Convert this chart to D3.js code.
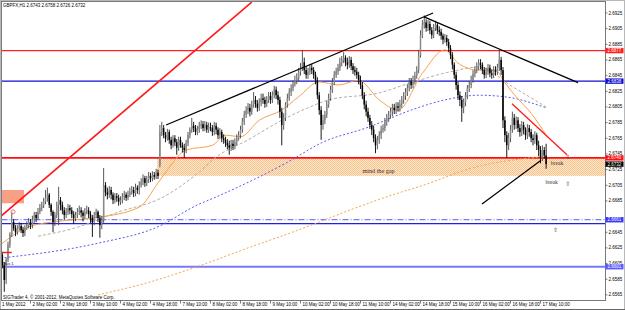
<!DOCTYPE html>
<html lang="en">
<head>
<meta charset="UTF-8">
<title>GBPFX,H1</title>
<script src="https://d3js.org/d3.v7.min.js"></script>
<style>
  body { margin: 0; background: #fff; }
  svg { display: block; font-family: "Liberation Sans", Arial, sans-serif; }
</style>
</head>
<body>
<svg width="625" height="310"></svg>
<script>
// ---- data ----
const title = 'GBPFX,H1  2.6743 2.6758 2.6726 2.6732';
const copyright = 'SIGTrader 4, \u00a9 2001-2012, MetaQuotes Software Corp.';

const dateLabels = ['1 May 2012', '2 May 02:00', '2 May 18:00', '3 May 10:00', '4 May 02:00', '4 May 18:00',
  '7 May 10:00', '8 May 02:00', '8 May 18:00', '9 May 10:00', '10 May 02:00', '10 May 18:00', '11 May 10:00',
  '14 May 02:00', '14 May 18:00', '15 May 10:00', '16 May 02:00', '16 May 18:00', '17 May 10:00'];

const priceTicks = [2.6925, 2.6905, 2.6885, 2.6865, 2.6845, 2.6825, 2.6805, 2.6785, 2.6765, 2.6745,
  2.6725, 2.6705, 2.6685, 2.6645, 2.6625, 2.6605, 2.6585, 2.6565];

// hourly bars, 1 May 10:00 .. 17 May 13:00 (open = previous close)
const firstOpen = 2.6625;
const gapOpens = { 85: 2.6731 };
const closes = [
  2.6616,2.6603,2.6584,2.6610,2.6629,2.6642,2.6658,2.6650,2.6645,2.6650,2.6653,2.6648,2.6644,2.6650,2.6654,2.6658,
  2.6654,2.6661,2.6667,2.6663,2.6671,2.6676,2.6679,2.6684,2.6689,2.6693,2.6680,2.6671,2.6658,2.6667,2.6680,2.6686,
  2.6680,2.6673,2.6667,2.6671,2.6676,2.6673,2.6668,2.6663,2.6667,2.6671,2.6673,2.6670,2.6666,2.6671,2.6673,2.6668,
  2.6663,2.6658,2.6667,2.6671,2.6663,2.6654,2.6661,2.6705,2.6696,2.6693,2.6699,2.6693,2.6686,2.6691,2.6689,2.6684,
  2.6686,2.6690,2.6693,2.6689,2.6693,2.6696,2.6699,2.6695,2.6702,2.6699,2.6705,2.6709,2.6714,2.6708,2.6712,2.6717,
  2.6714,2.6718,2.6716,2.6721,2.6717,2.6773,2.6778,2.6769,2.6765,2.6773,2.6763,2.6756,2.6765,2.6760,2.6753,2.6763,
  2.6756,2.6753,2.6750,2.6759,2.6769,2.6776,2.6781,2.6778,2.6773,2.6776,2.6781,2.6783,2.6778,2.6782,2.6776,2.6779,
  2.6778,2.6773,2.6781,2.6776,2.6769,2.6773,2.6765,2.6763,2.6759,2.6756,2.6753,2.6758,2.6755,2.6760,2.6765,2.6769,
  2.6776,2.6786,2.6795,2.6801,2.6804,2.6799,2.6808,2.6814,2.6809,2.6804,2.6811,2.6816,2.6814,2.6809,2.6814,2.6819,
  2.6814,2.6820,2.6827,2.6820,2.6814,2.6799,2.6782,2.6791,2.6808,2.6816,2.6824,2.6829,2.6834,2.6839,2.6842,2.6850,
  2.6855,2.6862,2.6852,2.6846,2.6850,2.6855,2.6852,2.6846,2.6839,2.6820,2.6801,2.6782,2.6788,2.6795,2.6808,2.6816,
  2.6827,2.6837,2.6846,2.6850,2.6855,2.6862,2.6865,2.6868,2.6862,2.6859,2.6865,2.6857,2.6852,2.6850,2.6846,2.6839,
  2.6833,2.6820,2.6808,2.6799,2.6791,2.6782,2.6776,2.6765,2.6756,2.6763,2.6769,2.6776,2.6778,2.6786,2.6791,2.6795,
  2.6799,2.6804,2.6801,2.6806,2.6804,2.6809,2.6814,2.6819,2.6824,2.6829,2.6837,2.6833,2.6839,2.6845,2.6852,2.6871,
  2.6897,2.6910,2.6913,2.6906,2.6911,2.6903,2.6897,2.6906,2.6910,2.6903,2.6901,2.6896,2.6891,2.6893,2.6888,2.6880,
  2.6871,2.6859,2.6846,2.6833,2.6820,2.6814,2.6804,2.6811,2.6820,2.6829,2.6833,2.6839,2.6847,2.6852,2.6857,2.6861,
  2.6859,2.6852,2.6846,2.6850,2.6855,2.6848,2.6846,2.6852,2.6850,2.6855,2.6865,2.6852,2.6788,2.6769,2.6756,2.6765,
  2.6776,2.6791,2.6782,2.6788,2.6778,2.6773,2.6782,2.6776,2.6769,2.6778,2.6773,2.6765,2.6763,2.6769,2.6756,2.6750,
  2.6740,2.6750,2.6743,2.6732];
const highs = [
  2.6630,2.6620,2.6607,2.6612,2.6633,2.6645,2.6671,2.6662,2.6654,2.6654,2.6658,2.6657,2.6652,2.6654,2.6659,2.6663,
  2.6662,2.6666,2.6671,2.6671,2.6676,2.6681,2.6684,2.6689,2.6699,2.6702,2.6695,2.6682,2.6673,2.6671,2.6684,2.6703,
  2.6690,2.6684,2.6677,2.6676,2.6681,2.6680,2.6677,2.6672,2.6671,2.6676,2.6679,2.6677,2.6673,2.6676,2.6679,2.6677,
  2.6672,2.6667,2.6671,2.6675,2.6673,2.6667,2.6666,2.6727,2.6709,2.6702,2.6704,2.6703,2.6696,2.6695,2.6695,2.6693,
  2.6691,2.6695,2.6698,2.6696,2.6698,2.6702,2.6704,2.6703,2.6707,2.6705,2.6710,2.6714,2.6719,2.6717,2.6717,2.6722,
  2.6721,2.6723,2.6722,2.6726,2.6725,2.6782,2.6786,2.6782,2.6773,2.6777,2.6776,2.6767,2.6769,2.6769,2.6764,2.6767,
  2.6767,2.6760,2.6758,2.6763,2.6773,2.6779,2.6791,2.6786,2.6782,2.6781,2.6786,2.6788,2.6787,2.6787,2.6786,2.6785,
  2.6785,2.6782,2.6786,2.6785,2.6779,2.6778,2.6776,2.6770,2.6767,2.6764,2.6762,2.6763,2.6763,2.6765,2.6770,2.6774,
  2.6781,2.6791,2.6800,2.6806,2.6810,2.6809,2.6813,2.6824,2.6819,2.6814,2.6816,2.6822,2.6822,2.6818,2.6819,2.6824,
  2.6824,2.6825,2.6832,2.6831,2.6825,2.6818,2.6804,2.6797,2.6811,2.6822,2.6829,2.6834,2.6839,2.6845,2.6848,2.6855,
  2.6861,2.6878,2.6868,2.6857,2.6855,2.6860,2.6860,2.6856,2.6850,2.6843,2.6824,2.6806,2.6795,2.6800,2.6813,2.6822,
  2.6832,2.6842,2.6851,2.6855,2.6860,2.6868,2.6870,2.6875,2.6871,2.6868,2.6870,2.6869,2.6861,2.6857,2.6855,2.6850,
  2.6845,2.6837,2.6824,2.6813,2.6804,2.6795,2.6787,2.6781,2.6770,2.6768,2.6774,2.6781,2.6783,2.6791,2.6796,2.6800,
  2.6804,2.6809,2.6809,2.6811,2.6811,2.6814,2.6819,2.6824,2.6829,2.6834,2.6842,2.6842,2.6845,2.6850,2.6857,2.6878,
  2.6903,2.6916,2.6922,2.6917,2.6916,2.6915,2.6907,2.6911,2.6915,2.6913,2.6908,2.6905,2.6899,2.6898,2.6897,2.6892,
  2.6884,2.6875,2.6862,2.6850,2.6837,2.6825,2.6819,2.6816,2.6824,2.6833,2.6838,2.6845,2.6852,2.6857,2.6862,2.6866,
  2.6866,2.6862,2.6856,2.6855,2.6860,2.6859,2.6853,2.6857,2.6857,2.6860,2.6878,2.6869,2.6856,2.6793,2.6774,2.6772,
  2.6782,2.6799,2.6796,2.6793,2.6792,2.6783,2.6787,2.6786,2.6779,2.6783,2.6782,2.6777,2.6770,2.6774,2.6772,2.6762,
  2.6755,2.6756,2.6754,2.6758];
const lows = [
  2.6612,2.6599,2.6569,2.6579,2.6607,2.6625,2.6639,2.6647,2.6640,2.6642,2.6647,2.6644,2.6639,2.6640,2.6648,2.6650,
  2.6649,2.6650,2.6657,2.6658,2.6661,2.6668,2.6672,2.6676,2.6681,2.6684,2.6676,2.6666,2.6645,2.6653,2.6663,2.6654,
  2.6673,2.6668,2.6661,2.6663,2.6667,2.6668,2.6663,2.6656,2.6659,2.6663,2.6667,2.6664,2.6659,2.6662,2.6668,2.6663,
  2.6657,2.6639,2.6654,2.6663,2.6658,2.6638,2.6649,2.6657,2.6691,2.6687,2.6689,2.6687,2.6681,2.6682,2.6684,2.6679,
  2.6680,2.6682,2.6686,2.6685,2.6686,2.6690,2.6693,2.6690,2.6691,2.6694,2.6693,2.6702,2.6705,2.6703,2.6704,2.6708,
  2.6709,2.6710,2.6712,2.6713,2.6713,2.6728,2.6768,2.6765,2.6760,2.6762,2.6758,2.6751,2.6753,2.6755,2.6744,2.6749,
  2.6753,2.6747,2.6740,2.6746,2.6755,2.6765,2.6772,2.6773,2.6769,2.6769,2.6772,2.6777,2.6774,2.6774,2.6772,2.6772,
  2.6774,2.6768,2.6769,2.6770,2.6764,2.6765,2.6760,2.6758,2.6754,2.6751,2.6744,2.6749,2.6750,2.6751,2.6756,2.6762,
  2.6765,2.6772,2.6782,2.6791,2.6796,2.6793,2.6795,2.6804,2.6804,2.6799,2.6800,2.6806,2.6809,2.6804,2.6805,2.6810,
  2.6809,2.6810,2.6816,2.6815,2.6808,2.6791,2.6756,2.6776,2.6787,2.6804,2.6813,2.6819,2.6825,2.6831,2.6834,2.6838,
  2.6845,2.6851,2.6847,2.6841,2.6841,2.6846,2.6847,2.6841,2.6834,2.6815,2.6795,2.6763,2.6776,2.6783,2.6791,2.6804,
  2.6813,2.6823,2.6833,2.6842,2.6846,2.6851,2.6857,2.6861,2.6857,2.6853,2.6855,2.6852,2.6847,2.6845,2.6841,2.6834,
  2.6828,2.6815,2.6802,2.6793,2.6786,2.6777,2.6769,2.6760,2.6746,2.6751,2.6758,2.6764,2.6772,2.6774,2.6781,2.6786,
  2.6790,2.6793,2.6796,2.6796,2.6799,2.6799,2.6804,2.6809,2.6814,2.6819,2.6825,2.6828,2.6829,2.6834,2.6841,2.6848,
  2.6868,2.6893,2.6905,2.6901,2.6902,2.6898,2.6892,2.6893,2.6902,2.6898,2.6896,2.6891,2.6885,2.6887,2.6883,2.6875,
  2.6866,2.6853,2.6841,2.6827,2.6814,2.6806,2.6786,2.6797,2.6806,2.6815,2.6824,2.6829,2.6836,2.6843,2.6848,2.6852,
  2.6853,2.6847,2.6841,2.6842,2.6846,2.6843,2.6841,2.6842,2.6845,2.6846,2.6851,2.6846,2.6778,2.6760,2.6740,2.6750,
  2.6760,2.6772,2.6776,2.6777,2.6773,2.6767,2.6768,2.6770,2.6763,2.6764,2.6767,2.6760,2.6756,2.6758,2.6750,2.6742,
  2.6733,2.6736,2.6739,2.6726];

// moving averages, [bar, price] read at intervals
const maFast = [[0,2.6629],[15,2.6652],[31,2.6659],[52,2.6664],[74,2.6677],[84,2.6708],[90,2.6728],[99,2.6750],
  [113,2.6756],[120,2.6769],[128,2.6767],[138,2.6788],[150,2.6801],[159,2.6818],[170,2.6837],[180,2.6833],
  [191,2.6839],[202,2.6814],[212,2.6801],[225,2.6848],[237,2.6878],[244,2.6861],[255,2.6852],[264,2.6852],
  [269,2.6836],[275,2.6818],[283,2.6797],[291,2.6769]];
const maMid = [[20,2.6640],[39,2.6650],[63,2.6671],[86,2.6689],[106,2.6722],[115,2.6741],[132,2.6763],[150,2.6788],
  [164,2.6804],[175,2.6814],[202,2.6823],[219,2.6836],[240,2.6850],[255,2.6856],[273,2.6831],[291,2.6805]];
const maSlow = [[0,2.6612],[52,2.6631],[84,2.6652],[106,2.6681],[111,2.6686],[155,2.6737],[171,2.6759],
  [196,2.6779],[219,2.6801],[237,2.6814],[255,2.6820],[269,2.6818],[291,2.6804]];
const maLong = [[52,2.6565],[79,2.6581],[100,2.6597],[132,2.6625],[159,2.6648],[186,2.6673],[212,2.6695],
  [223,2.6703],[253,2.6728],[291,2.6742]];

// horizontal levels and their axis labels
const levelPrices = [2.6877, 2.6838, 2.6740, 2.6661, 2.6656, 2.6601];
const labelPrices = [2.6877, 2.6838, 2.6740, 2.6732, 2.6661, 2.6601];

// trend lines [[bar, price], [bar, price]]
const redChannel = [[0, 2.6665], [134, 2.6939]];
const blackLines = [
  [[88.3, 2.6782], [230.7, 2.6925]],
  [[225.9, 2.6920], [308, 2.6836]],
  [[256.8, 2.6681], [288.3, 2.6737]]
];
const redShort = [[272.8, 2.6809], [302.1, 2.6744]];
const redDash = [[0.5, 2.6619], [6, 2.6619]];
const marker = [6.7, 2.6671];

// gap zone and small box
const gapZone = { from: 83.5, top: 2.6740, bottom: 2.6717 };
const leftBox = { from: 0.5, to: 12.5, top: 2.6699, bottom: 2.6682 };

const notes = [
  { text: 'mind the gap', bar: 193, price: 2.6721 },
  { text: 'break', bar: 293.5, price: 2.6731 },
  { text: 'break', bar: 290.6, price: 2.6707 }
];
const arrows = [[302.5, 2.6742], [302.5, 2.6707], [296, 2.6648]];
const smallLabel = { text: 'Bus 1', bar: 1.5, price: 2.6603 };

// ---- drawing ----
const svg = d3.select('svg');
const plot = { left: 1.5, right: 605.5, top: 1.5, bottom: 300.5 };
const fs = 4.5;

const x = d3.scaleLinear().domain([0, 310]).range([0.5, 0.5 + 310 * 1.875]);
const y = d3.scaleLinear().domain([2.6565, 2.6925]).range([294.9, 13]);

svg.append('rect').attr('width', 625).attr('height', 310).attr('fill', '#fff');

const defs = svg.append('defs');
defs.append('clipPath').attr('id', 'clip')
  .append('rect').attr('x', plot.left).attr('y', plot.top)
  .attr('width', plot.right - plot.left).attr('height', plot.bottom - plot.top);
const pat = defs.append('pattern').attr('id', 'hatch')
  .attr('width', 2).attr('height', 2).attr('patternUnits', 'userSpaceOnUse');
pat.append('rect').attr('width', 2).attr('height', 2).attr('fill', '#fde6cc');
pat.append('rect').attr('width', 1).attr('height', 1).attr('fill', '#f8c48e');
pat.append('rect').attr('x', 1).attr('y', 1).attr('width', 1).attr('height', 1).attr('fill', '#f8c48e');

const g = svg.append('g').attr('clip-path', 'url(#clip)');

// gap zone
g.append('rect')
  .attr('x', x(gapZone.from)).attr('y', y(gapZone.top))
  .attr('width', plot.right - x(gapZone.from))
  .attr('height', y(gapZone.bottom) - y(gapZone.top))
  .attr('fill', 'url(#hatch)');

g.append('rect')
  .attr('x', x(leftBox.from)).attr('y', y(leftBox.top))
  .attr('width', x(leftBox.to) - x(leftBox.from))
  .attr('height', y(leftBox.bottom) - y(leftBox.top))
  .attr('fill', '#f7a083');

// levels
const levelStyle = [
  { c: '#ff2020', w: 1.3 }, { c: '#1010d0', w: 1.3 }, { c: '#ff1010', w: 1.6 },
  { c: '#5a5af0', w: 1, dash: '6,2,1,2' }, { c: '#2222dd', w: 1.3 }, { c: '#7777ff', w: 2 }
];
levelPrices.forEach((p, i) => {
  g.append('line')
    .attr('x1', plot.left).attr('x2', plot.right)
    .attr('y1', y(p)).attr('y2', y(p))
    .attr('stroke', levelStyle[i].c).attr('stroke-width', levelStyle[i].w)
    .attr('stroke-dasharray', levelStyle[i].dash || null);
});

// moving averages
const maLine = d3.line().x(d => x(d[0])).y(d => y(d[1])).curve(d3.curveMonotoneX);
[[maLong, '#f5a24e', '2,2'], [maSlow, '#5b5bf0', '2,2'], [maMid, '#b8ada0', '3,2'], [maFast, '#f5a24e', null]]
  .forEach(([d, c, dash]) => {
    g.append('path').attr('d', maLine(d)).attr('fill', 'none')
      .attr('stroke', c).attr('stroke-width', 1).attr('stroke-dasharray', dash);
  });

// candles
const bars = closes.map((c, i) => ({
  i, c, h: highs[i], l: lows[i],
  o: i === 0 ? firstOpen : (gapOpens[i] !== undefined ? gapOpens[i] : closes[i - 1])
}));
const cg = g.append('g');
cg.selectAll('line').data(bars).join('line')
  .attr('x1', d => x(d.i)).attr('x2', d => x(d.i))
  .attr('y1', d => y(d.h)).attr('y2', d => y(d.l))
  .attr('stroke', d => d.c >= d.o ? '#444' : '#000').attr('stroke-width', 0.9);
cg.selectAll('rect').data(bars).join('rect')
  .attr('x', d => x(d.i) - 0.75).attr('width', 1.5)
  .attr('y', d => y(Math.max(d.o, d.c)))
  .attr('height', d => Math.max(0.8, Math.abs(y(d.o) - y(d.c))))
  .attr('fill', d => d.c >= d.o ? '#8a8a8a' : '#000');

// trend lines
const seg = (pts, c, w) => g.append('line')
  .attr('x1', x(pts[0][0])).attr('y1', y(pts[0][1]))
  .attr('x2', x(pts[1][0])).attr('y2', y(pts[1][1]))
  .attr('stroke', c).attr('stroke-width', w);
seg(redChannel, '#ff1a1a', 1.6);
blackLines.forEach(l => seg(l, '#000', 1.3));
seg(redShort, '#ff1a1a', 1.3);
seg(redDash, '#ff2020', 1.5);
g.append('circle').attr('cx', x(marker[0])).attr('cy', y(marker[1])).attr('r', 2)
  .attr('fill', 'none').attr('stroke', '#f07878').attr('stroke-width', 1);

// notes
notes.forEach((n, i) => {
  g.append('text').attr('x', x(n.bar)).attr('y', y(n.price))
    .attr('font-family', '"Liberation Serif", serif').attr('font-size', i === 0 ? 6.2 : 5.6)
    .attr('fill', '#333').text(n.text);
});
arrows.forEach(a => {
  g.append('text').attr('x', x(a[0])).attr('y', y(a[1]) + 2.5)
    .attr('font-family', '"DejaVu Sans", sans-serif').attr('font-size', 6)
    .attr('fill', '#444').attr('text-anchor', 'middle').text('\u21e7');
});
g.append('text').attr('x', x(smallLabel.bar)).attr('y', y(smallLabel.price))
  .attr('font-size', 4).attr('fill', '#222').text(smallLabel.text);

// frame
svg.append('rect').attr('x', 0.5).attr('y', 0.5).attr('width', 624).attr('height', 309)
  .attr('fill', 'none').attr('stroke', '#b8b8b8');
svg.append('line').attr('x1', 0).attr('x2', 625).attr('y1', 309.5).attr('y2', 309.5)
  .attr('stroke', '#666');
svg.append('rect').attr('x', plot.left).attr('y', plot.top)
  .attr('width', plot.right - plot.left).attr('height', plot.bottom - plot.top)
  .attr('fill', 'none').attr('stroke', '#7a7a7a');

// price axis
const ya = svg.append('g').attr('font-size', fs).attr('fill', '#000');
priceTicks.forEach(p => {
  ya.append('line').attr('x1', plot.right).attr('x2', plot.right + 2)
    .attr('y1', y(p)).attr('y2', y(p)).attr('stroke', '#555').attr('stroke-width', 0.8);
  ya.append('text').attr('x', plot.right + 3).attr('y', y(p) + 1.5).text(p.toFixed(4));
});
const labelColors = ['#ff2020', '#1010d0', '#ff1010', '#000', '#3a3af5', '#5b5bff'];
labelPrices.forEach((p, i) => {
  ya.append('rect').attr('x', plot.right).attr('y', y(p) - 2.7)
    .attr('width', 18).attr('height', 5.4).attr('fill', labelColors[i]);
  ya.append('text').attr('x', plot.right + 2).attr('y', y(p) + 1.5)
    .attr('fill', '#fff').text(p.toFixed(4));
});

// time axis
const xa = svg.append('g').attr('font-size', fs).attr('fill', '#000');
dateLabels.forEach((t, k) => {
  const bx = k === 0 ? 2 : x(k * 16);
  if (k > 0) {
    xa.append('line').attr('x1', bx).attr('x2', bx)
      .attr('y1', plot.bottom).attr('y2', plot.bottom + 3).attr('stroke', '#555').attr('stroke-width', 0.8);
  }
  xa.append('text').attr('x', bx + (k === 0 ? 0 : 2)).attr('y', 305.5).text(t);
});

// captions
svg.append('text').attr('x', 3).attr('y', 7).attr('font-size', fs).text(title);
svg.append('text').attr('x', 3).attr('y', 298.5).attr('font-size', fs).text(copyright);
</script>
</body>
</html>
